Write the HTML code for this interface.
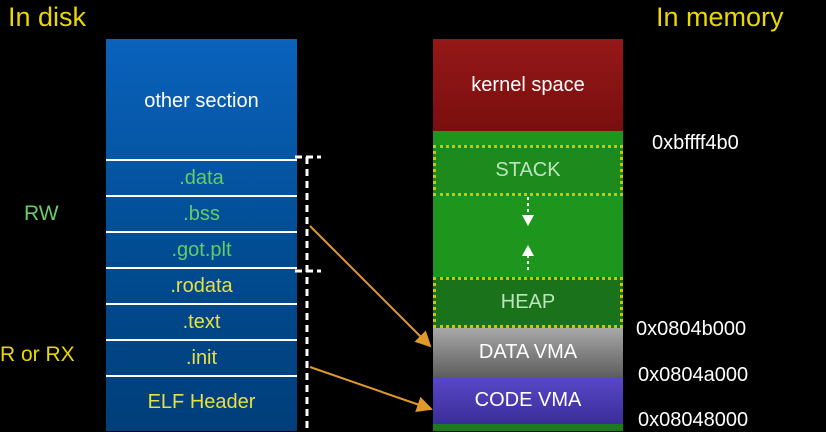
<!DOCTYPE html>
<html><head><style>
body{margin:0;width:826px;height:431px;background:#000;overflow:hidden;position:relative;font-family:"Liberation Sans",sans-serif}
.a{position:absolute}
</style></head><body>
<div class="a" style="left:8px;top:2px;font-size:27px;color:#e8d800">In disk</div>
<div class="a" style="left:656px;top:2px;font-size:27px;color:#e8d800">In memory</div>
<div class="a" style="left:24px;top:202px;font-size:21px;color:#6c6">RW</div>
<div class="a" style="left:0px;top:343px;font-size:21px;color:#e8d800">R or RX</div>

<div class="a" style="left:106px;top:39px;width:191px;height:392px;background:linear-gradient(#0a62bc,#004a8e 60%,#003e7a)"></div>
<div class="a" style="left:106px;top:39px;width:191px;height:121px;color:#fff;font-size:20px;line-height:124px;text-align:center">other section</div>
<div class="a" style="left:106px;top:159px;width:191px;font-size:20px;text-align:center">
<div style="height:34px;border-top:2px solid #fff;line-height:34px;color:#6c6">.data</div>
<div style="height:34px;border-top:2px solid #fff;line-height:34px;color:#6c6">.bss</div>
<div style="height:34px;border-top:2px solid #fff;line-height:34px;color:#6c6">.got.plt</div>
<div style="height:34px;border-top:2px solid #fff;line-height:34px;color:#e8e040">.rodata</div>
<div style="height:34px;border-top:2px solid #fff;line-height:34px;color:#e8e040">.text</div>
<div style="height:34px;border-top:2px solid #fff;line-height:34px;color:#e8e040">.init</div>
<div style="height:50px;border-top:2px solid #fff;line-height:50px;color:#e8e040">ELF Header</div>
</div>

<div class="a" style="left:433px;top:39px;width:190px;height:92px;background:linear-gradient(#951818,#7a0e0e);color:#fff;font-size:20px;line-height:92px;text-align:center">kernel space</div>
<div class="a" style="left:433px;top:131px;width:190px;height:197px;background:#1e961e"></div>
<div class="a" style="left:433px;top:145px;width:184px;height:45px;border:3px dotted #c8c800;background:#1d8a1d;color:#bde5bd;font-size:20px;line-height:45px;text-align:center">STACK</div>
<div class="a" style="left:433px;top:277px;width:184px;height:45px;border:3px dotted #c8c800;background:#1a721a;color:#bde5bd;font-size:20px;line-height:45px;text-align:center">HEAP</div>
<div class="a" style="left:433px;top:328px;width:190px;height:49px;background:linear-gradient(#a8a8a8,#5e5e5e);color:#fff;font-size:20px;line-height:49px;text-align:center">DATA VMA</div>
<div class="a" style="left:433px;top:377px;width:190px;height:47px;background:linear-gradient(#5a48c8,#3a2c98);color:#fff;font-size:20px;line-height:47px;text-align:center">CODE VMA</div>
<div class="a" style="left:433px;top:424px;width:190px;height:7px;background:#1e7a1e"></div>

<div class="a" style="left:652px;top:132px;font-size:20px;color:#fff">0xbffff4b0</div>
<div class="a" style="left:636px;top:318px;font-size:20px;color:#fff">0x0804b000</div>
<div class="a" style="left:638px;top:364px;font-size:20px;color:#fff">0x0804a000</div>
<div class="a" style="left:638px;top:409px;font-size:20px;color:#fff">0x08048000</div>

<svg class="a" style="left:0;top:0" width="826" height="431">
<defs><marker id="m" markerWidth="8" markerHeight="8" refX="7" refY="4" orient="auto"><path d="M0,0L8,4L0,8z" fill="#e09a2a"/></marker></defs>
<line x1="307" y1="157" x2="307" y2="431" stroke="#fff" stroke-width="3" stroke-dasharray="7,5"/>
<line x1="295" y1="157" x2="321" y2="157" stroke="#fff" stroke-width="3" stroke-dasharray="7,4"/>
<line x1="295" y1="271" x2="321" y2="271" stroke="#fff" stroke-width="3" stroke-dasharray="7,4"/>
<line x1="310" y1="226" x2="430" y2="346" stroke="#e09a2a" stroke-width="2" marker-end="url(#m)"/>
<line x1="310" y1="367" x2="431" y2="409" stroke="#e09a2a" stroke-width="2" marker-end="url(#m)"/>
<line x1="528" y1="197" x2="528" y2="215" stroke="#fff" stroke-width="2" stroke-dasharray="3,3"/>
<path d="M522,215L534,215L528,226z" fill="#fff"/>
<line x1="528" y1="255" x2="528" y2="273" stroke="#fff" stroke-width="2" stroke-dasharray="3,3"/>
<path d="M522,256L534,256L528,245z" fill="#fff"/>
</svg>
</body></html>
